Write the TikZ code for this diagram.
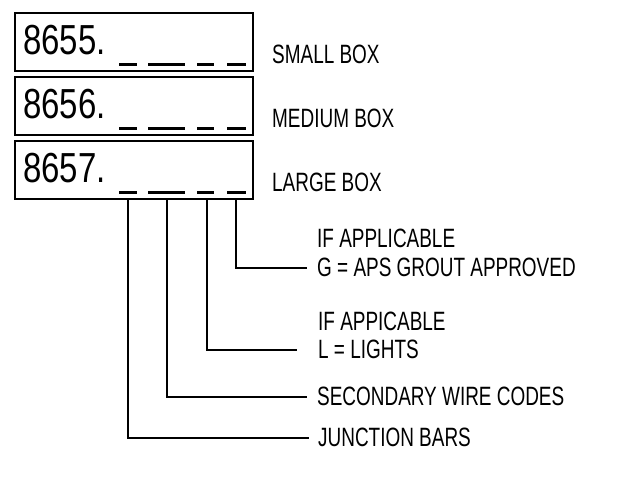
\documentclass[tikz,border=0pt]{standalone}
\usepackage{fontspec}
\usepackage{tikz}
\usetikzlibrary{positioning,calc}
\newfontfamily\codefont{Liberation Sans}[FakeStretch=0.785]
\newfontfamily\notefont{Liberation Sans}[FakeStretch=0.715]
\tikzset{
  codebox/.style={draw=black, line width=1.7pt, minimum width=238pt, minimum height=58pt, inner sep=0pt},
  codenum/.style={anchor=base west, inner sep=0pt, font=\codefont\fontsize{42}{44}\selectfont},
  sizelabel/.style={anchor=base west, inner sep=0pt, font=\notefont\fontsize{26.5}{28}\selectfont},
  note/.style={anchor=west, inner sep=0pt, text height=17pt, text depth=0pt, font=\notefont\fontsize{26.5}{28}\selectfont},
  dashbar/.style={line width=3pt},
  leader/.style={line width=1.6pt, draw=black}
}

\begin{document}
\begin{tikzpicture}[x=1pt,y=-1pt]
  \useasboundingbox (0,0) rectangle (624,486);
  % part number boxes
  \node[codebox] (small) at (134,42) {};
  \node[codebox] (medium) at (134,106) {};
  \node[codebox] (large) at (134,170) {};
  \node[codenum] (smallnum) at (23,55) {8655.};
  \node[codenum] (mediumnum) at (23,119) {8656.};
  \node[codenum] (largenum) at (23,183) {8657.};
  \foreach \b in {small,medium,large}{
    \draw[dashbar] ([xshift=105pt,yshift=7.5pt]\b.south west) -- ++(18,0);
    \draw[dashbar] ([xshift=134pt,yshift=7.5pt]\b.south west) -- ++(37,0);
    \draw[dashbar] ([xshift=183pt,yshift=7.5pt]\b.south west) -- ++(17,0);
    \draw[dashbar] ([xshift=213pt,yshift=7.5pt]\b.south west) -- ++(19,0);
  }
  \node[sizelabel] (smalltxt) at (272,64) {SMALL BOX};
  \node[sizelabel] (mediumtxt) at (272,128) {MEDIUM BOX};
  \node[sizelabel] (largetxt) at (272,192) {LARGE BOX};

  % digit positions under the large box
  \coordinate (junc) at ([xshift=114pt]large.south west);
  \coordinate (wire) at ([xshift=153pt]large.south west);
  \coordinate (lite) at ([xshift=193pt]large.south west);
  \coordinate (grout) at ([xshift=222pt]large.south west);

  % notes
  \node[note] (grouthead) at (317,239) {IF APPLICABLE};
  \node[note] (groutnote) at (317,268) {G = APS GROUT APPROVED};
  \node[note] (litehead) at (318,322) {IF APPICABLE};
  \node[note] (litenote) at (318,350) {L = LIGHTS};
  \node[note] (wirenote) at (317,397) {SECONDARY WIRE CODES};
  \node[note] (juncnote) at (318,438) {JUNCTION BARS};

  \draw[leader, shorten >=10pt] (grout) |- (groutnote.west);
  \draw[leader, shorten >=21pt] (lite) |- (litenote.west);
  \draw[leader, shorten >=10pt] (wire) |- (wirenote.west);
  \draw[leader, shorten >=9pt] (junc) |- (juncnote.west);
\end{tikzpicture}
\end{document}
